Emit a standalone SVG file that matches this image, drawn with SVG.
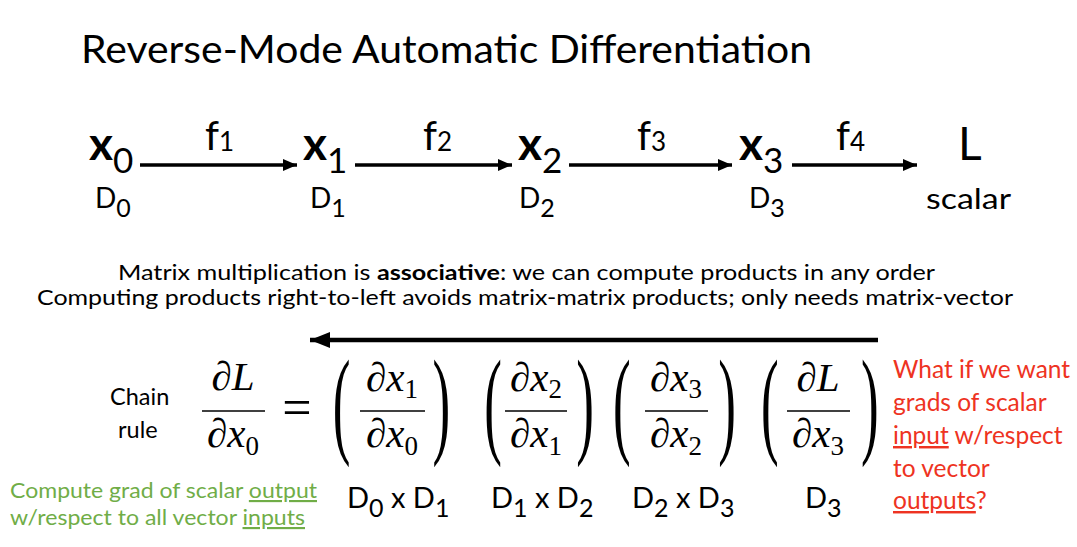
<svg xmlns="http://www.w3.org/2000/svg" width="1077" height="547" viewBox="0 0 1077 547">
<style>
  .s { font-family: Lato, "Open Sans", sans-serif; fill: #000; }
  .xb { font-family: Lato, sans-serif; font-weight: bold; font-size: 46px; }
  .sub { font-family: Lato, sans-serif; font-weight: normal; font-size: 35px; }
  .d { font-family: Lato, sans-serif; font-size: 28px; }
  .ds { font-family: Lato, sans-serif; font-size: 25px; }
  .f { font-family: Lato, sans-serif; font-size: 40px; }
  .fs { font-family: Lato, sans-serif; font-size: 26px; }
  .body { font-family: Lato, sans-serif; font-size: 20.5px; }
  .cr { font-family: Lato, sans-serif; font-size: 23.5px; }
  .m { font-family: "Liberation Serif", serif; font-style: italic; font-size: 41px; }
  .ms { font-style: normal; font-size: 27px; }
  .par { font-family: "Liberation Serif", serif; font-size: 118px; }
  .lbl { font-family: Lato, sans-serif; font-size: 29px; }
  .lbls { font-family: Lato, sans-serif; font-size: 25px; }
  .green { font-family: Lato, sans-serif; font-size: 21.5px; fill: #70AD47; }
  .red { font-family: Lato, sans-serif; font-size: 24.5px; fill: #EE3322; }
  .arr { stroke: #000; stroke-width: 3.5; fill: none; }
</style>
<defs>
  <marker id="ah" markerUnits="userSpaceOnUse" markerWidth="16" markerHeight="14" refX="14" refY="7" orient="auto">
    <path d="M0,1 L14,7 L0,13 Z" fill="#000"/>
  </marker>
  <marker id="ahb" markerUnits="userSpaceOnUse" markerWidth="22" markerHeight="18" refX="20" refY="9" orient="auto">
    <path d="M0,1 L20,9 L0,17 Z" fill="#000"/>
  </marker>
</defs>
<rect width="1077" height="547" fill="#fff"/>

<g id="title">
  <text class="s" x="81" y="63" font-size="39" textLength="731" lengthAdjust="spacingAndGlyphs">Reverse-Mode Automatic Differentiation</text>
</g>

<g id="connectors">
  <line class="arr" x1="140" y1="165" x2="297" y2="165" marker-end="url(#ah)"/>
  <line class="arr" x1="355" y1="165" x2="512" y2="165" marker-end="url(#ah)"/>
  <line class="arr" x1="569" y1="165" x2="732" y2="165" marker-end="url(#ah)"/>
  <line class="arr" x1="792" y1="165" x2="917" y2="165" marker-end="url(#ah)"/>
  <text class="f" x="205" y="150">f<tspan class="fs" dy="1">1</tspan></text>
  <text class="f" x="423" y="150">f<tspan class="fs" dy="1">2</tspan></text>
  <text class="f" x="637" y="150">f<tspan class="fs" dy="1">3</tspan></text>
  <text class="f" x="836" y="150">f<tspan class="fs" dy="1">4</tspan></text>
  <line x1="878" y1="340" x2="310" y2="340" stroke="#000" stroke-width="4.5" marker-end="url(#ahb)"/>
</g>

<g id="node-x0">
  <text class="xb" x="89" y="160">x<tspan class="sub" dy="13">0</tspan></text>
  <text class="d" x="95" y="208">D<tspan class="ds" dy="9">0</tspan></text>
</g>
<g id="node-x1">
  <text class="xb" x="303" y="160">x<tspan class="sub" dy="13">1</tspan></text>
  <text class="d" x="310" y="208">D<tspan class="ds" dy="9">1</tspan></text>
</g>
<g id="node-x2">
  <text class="xb" x="518" y="160">x<tspan class="sub" dy="13">2</tspan></text>
  <text class="d" x="519" y="208">D<tspan class="ds" dy="9">2</tspan></text>
</g>
<g id="node-x3">
  <text class="xb" x="739" y="160">x<tspan class="sub" dy="13">3</tspan></text>
  <text class="d" x="749" y="208">D<tspan class="ds" dy="9">3</tspan></text>
</g>
<g id="node-L">
  <text class="s" x="958" y="160" font-size="46">L</text>
  <text class="d" x="926" y="209" font-size="33" textLength="85" lengthAdjust="spacingAndGlyphs">scalar</text>
</g>

<g id="notes">
  <text class="body" x="118" y="280" textLength="817" lengthAdjust="spacingAndGlyphs">Matrix multiplication is <tspan font-weight="bold">associative</tspan>: we can compute products in any order</text>
  <text class="body" x="37" y="305" textLength="976" lengthAdjust="spacingAndGlyphs">Computing products right-to-left avoids matrix-matrix products; only needs matrix-vector</text>
</g>

<g id="chain-rule">
  <text class="cr" x="110" y="405">Chain</text>
  <text class="cr" x="118" y="438">rule</text>

  <text class="m" x="233" y="390" text-anchor="middle">∂L</text>
  <line x1="202" y1="411" x2="265" y2="411" stroke="#000" stroke-width="1.6"/>
  <text class="m" x="233" y="447" text-anchor="middle">∂x<tspan class="ms" dy="8">0</tspan></text>

  <text x="297" y="425" font-family="Liberation Serif, serif" font-size="52" text-anchor="middle">=</text>

  <g transform="scale(0.45,1)">
    <text class="par" x="759" y="442" text-anchor="middle">(</text>
    <text class="par" x="981" y="442" text-anchor="middle">)</text>
    <text class="par" x="1096" y="442" text-anchor="middle">(</text>
    <text class="par" x="1300" y="442" text-anchor="middle">)</text>
    <text class="par" x="1382" y="442" text-anchor="middle">(</text>
    <text class="par" x="1616" y="442" text-anchor="middle">)</text>
    <text class="par" x="1711" y="442" text-anchor="middle">(</text>
    <text class="par" x="1933" y="442" text-anchor="middle">)</text>
  </g>

  <text class="m" x="392" y="391" text-anchor="middle">∂x<tspan class="ms" dy="7">1</tspan></text>
  <line x1="360" y1="411" x2="425" y2="411" stroke="#000" stroke-width="1.6"/>
  <text class="m" x="392" y="447" text-anchor="middle">∂x<tspan class="ms" dy="8">0</tspan></text>

  <text class="m" x="536" y="391" text-anchor="middle">∂x<tspan class="ms" dy="7">2</tspan></text>
  <line x1="505" y1="411" x2="567" y2="411" stroke="#000" stroke-width="1.6"/>
  <text class="m" x="536" y="447" text-anchor="middle">∂x<tspan class="ms" dy="8">1</tspan></text>

  <text class="m" x="676" y="391" text-anchor="middle">∂x<tspan class="ms" dy="7">3</tspan></text>
  <line x1="645" y1="411" x2="708" y2="411" stroke="#000" stroke-width="1.6"/>
  <text class="m" x="676" y="447" text-anchor="middle">∂x<tspan class="ms" dy="8">2</tspan></text>

  <text class="m" x="818" y="391" text-anchor="middle">∂L</text>
  <line x1="787" y1="411" x2="850" y2="411" stroke="#000" stroke-width="1.6"/>
  <text class="m" x="818" y="447" text-anchor="middle">∂x<tspan class="ms" dy="8">3</tspan></text>
</g>

<g id="dims">
  <text class="lbl" x="347" y="508">D<tspan class="lbls" dy="9">0</tspan><tspan dy="-9"> x D</tspan><tspan class="lbls" dy="9">1</tspan></text>
  <text class="lbl" x="491" y="508">D<tspan class="lbls" dy="9">1</tspan><tspan dy="-9"> x D</tspan><tspan class="lbls" dy="9">2</tspan></text>
  <text class="lbl" x="632" y="508">D<tspan class="lbls" dy="9">2</tspan><tspan dy="-9"> x D</tspan><tspan class="lbls" dy="9">3</tspan></text>
  <text class="lbl" x="805" y="508">D<tspan class="lbls" dy="9">3</tspan></text>
</g>

<g id="note-green">
  <text class="green" x="10" y="498" textLength="307" lengthAdjust="spacingAndGlyphs">Compute grad of scalar <tspan text-decoration="underline">output</tspan></text>
  <text class="green" x="10" y="525" textLength="295" lengthAdjust="spacingAndGlyphs">w/respect to all vector <tspan text-decoration="underline">inputs</tspan></text>
</g>

<g id="note-red">
  <text class="red" x="893" y="378">What if we want</text>
  <text class="red" x="893" y="411">grads of scalar</text>
  <text class="red" x="893" y="444"><tspan text-decoration="underline">input</tspan> w/respect</text>
  <text class="red" x="893" y="477">to vector</text>
  <text class="red" x="893" y="509"><tspan text-decoration="underline">outputs</tspan>?</text>
</g>
</svg>
